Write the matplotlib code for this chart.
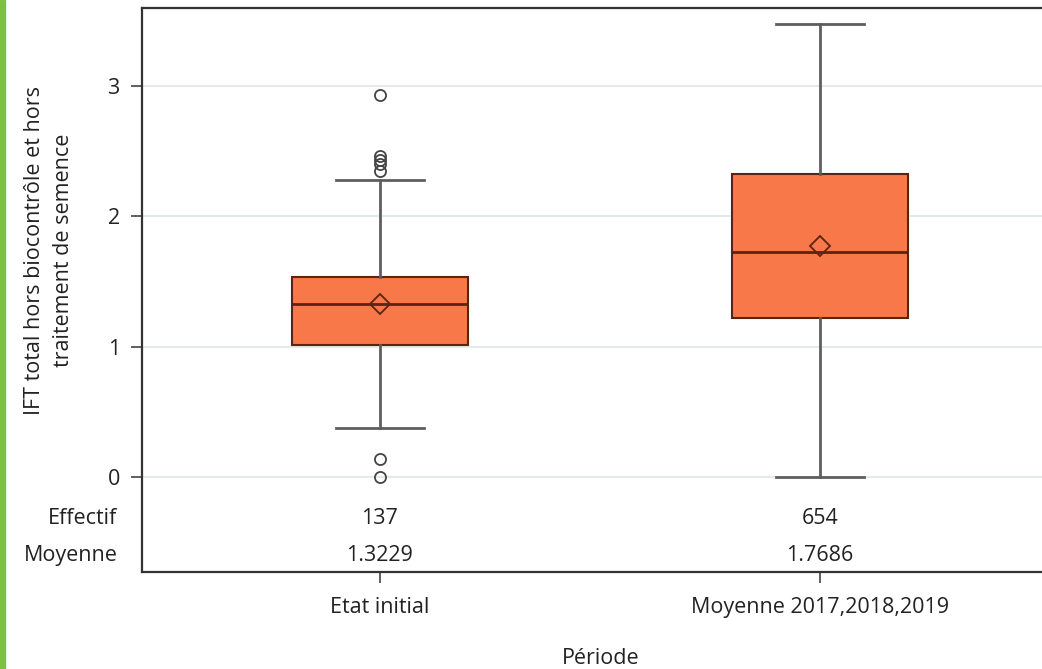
import matplotlib.pyplot as plt
import matplotlib.patches as mpatches

plt.rcParams['font.family'] = ['Open Sans', 'DejaVu Sans']

# Data
periods = ['Etat initial', 'Moyenne 2017,2018,2019']
q1 = [1.015, 1.220]
median = [1.330, 1.725]
q3 = [1.535, 2.325]
whisker_low = [0.375, 0.0]
whisker_high = [2.280, 3.475]
means = [1.3229, 1.7686]
effectif = [137, 654]
outliers = [[2.93, 2.46, 2.43, 2.40, 2.35, 0.14, 0.0], []]
y_ticks = [0, 1, 2, 3]

box_color = '#F8784A'
edge_color = '#5A2410'
gray = '#5E5E5E'
txt = '#222222'
fs = 15.5

fig = plt.figure(figsize=(10.42, 6.69), dpi=100)
# green margin bar on the left edge
fig.add_artist(mpatches.Rectangle((0, 0), 0.0045, 1, color='#7DC142',
                                  transform=fig.transFigure))

ax = fig.add_axes([0.1363, 0.145, 0.879, 0.843])

stats = []
for i in range(len(periods)):
    stats.append({'q1': q1[i], 'med': median[i], 'q3': q3[i],
                  'whislo': whisker_low[i], 'whishi': whisker_high[i],
                  'mean': means[i], 'fliers': outliers[i], 'label': periods[i]})

positions = [1, 2]
ax.bxp(stats, positions=positions, widths=0.4, showmeans=True, patch_artist=True,
       boxprops=dict(facecolor=box_color, edgecolor=edge_color, linewidth=1.5),
       medianprops=dict(color=edge_color, linewidth=2),
       whiskerprops=dict(color=gray, linewidth=2),
       capprops=dict(color=gray, linewidth=2),
       capwidths=0.2,
       meanprops=dict(marker='D', markersize=10, markerfacecolor='none',
                      markeredgecolor=edge_color, markeredgewidth=1.3),
       flierprops=dict(marker='o', markersize=8, markerfacecolor='none',
                       markeredgecolor='#444444', markeredgewidth=1.3),
       zorder=3)

ax.set_xlim(0.46, 2.54)
ax.set_ylim(-0.73, 3.597)

ax.set_yticks(y_ticks)
ax.set_yticklabels([str(t) for t in y_ticks])
for t in y_ticks:
    ax.axhline(t, color='#E4EAEA', linewidth=1.5, zorder=1)

# statistics table inside the axes
for i, p in enumerate(positions):
    ax.text(p, -0.32, str(effectif[i]), ha='center', va='center', fontsize=fs, color=txt)
    ax.text(p, -0.60, '%.4f' % means[i], ha='center', va='center', fontsize=fs, color=txt)
ax.text(-0.027, -0.32, 'Effectif', transform=ax.get_yaxis_transform(), ha='right',
        va='center', fontsize=fs, color=txt)
ax.text(-0.027, -0.60, 'Moyenne', transform=ax.get_yaxis_transform(), ha='right',
        va='center', fontsize=fs, color=txt)

ax.set_xticks(positions)
ax.set_xticklabels(periods, fontsize=fs, color=txt)
ax.tick_params(axis='both', length=8, width=1.2, color='#444444', labelsize=fs,
               labelcolor=txt, pad=8)
ax.tick_params(axis='x', pad=10)
for s in ax.spines.values():
    s.set_color('#333333')
    s.set_linewidth(1.6)

fig.text(0.576, 0.008, 'Période', ha='center', va='baseline', fontsize=fs, color=txt)
fig.text(0.047, 0.626, 'IFT total hors biocontrôle et hors\ntraitement de semence',
         rotation=90, ha='center', va='center', fontsize=fs, color=txt,
         linespacing=1.45)

fig.savefig('out.png', dpi=100)
